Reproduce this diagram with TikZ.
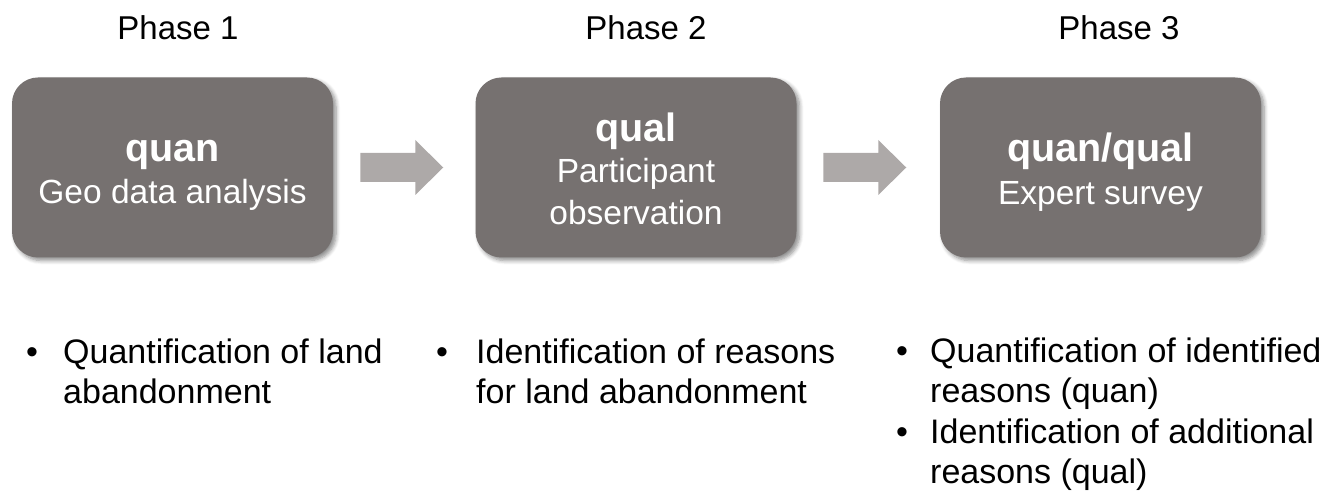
\documentclass[tikz,border=0pt]{standalone}
\usepackage{fontspec}
\setmainfont{Liberation Sans}
\usetikzlibrary{calc,shadows.blur}
\definecolor{boxgray}{HTML}{767170}
\definecolor{arrowgray}{HTML}{ADA9A8}
\tikzset{
  phasebox/.style={fill=boxgray, draw=none, rounded corners=26pt, minimum width=321pt, minimum height=180pt, inner sep=0pt,
    blur shadow={shadow xshift=3pt, shadow yshift=-3pt, shadow blur steps=6, shadow opacity=45, shadow blur radius=4pt}},
  boxtitle/.style={anchor=base, inner sep=0pt, text=white, font=\fontsize{39.5}{46}\selectfont\bfseries},
  boxtext/.style={anchor=base, inner sep=0pt, text=white, font=\fontsize{33.5}{40}\selectfont},
  phaselabel/.style={anchor=base, inner sep=0pt, font=\fontsize{33}{40}\selectfont},
  bulletdot/.style={anchor=base, inner sep=0pt, font=\fontsize{34}{40}\selectfont},
  bullettext/.style={anchor=base west, inner sep=0pt, font=\fontsize{34}{40}\selectfont},
  blockarrow/.style={fill=arrowgray, draw=none}
}
\begin{document}
\begin{tikzpicture}[x=1pt,y=-1pt]
\useasboundingbox (0,0) rectangle (1338,494);
% phase labels
\node[phaselabel] (p1) at (178,40) {Phase 1};
\node[phaselabel] (p2) at (646,40) {Phase 2};
\node[phaselabel] (p3) at (1119,40) {Phase 3};
% boxes
\node[phasebox] (b1) at (172.5,167.5) {};
\node[phasebox] (b2) at (636,167.5) {};
\node[phasebox] (b3) at (1100.5,167.5) {};
% box texts
\node[boxtitle] (t1a) at (172.5,162) {quan};
\node[boxtext] (t1b) at (172.5,204) {Geo data analysis};
\node[boxtitle] (t2a) at (636,142) {qual};
\node[boxtext] (t2b) at (636,183) {Participant};
\node[boxtext] (t2c) at (636,225) {observation};
\node[boxtitle] (t3a) at (1100.5,162) {quan/qual};
\node[boxtext] (t3b) at (1100.5,205) {Expert survey};
% block arrows
\coordinate (m1) at ($(b1.east)!0.5!(b2.west)+(-2.5,0)$);
\coordinate (m2) at ($(b2.east)!0.5!(b3.west)+(-3.5,0)$);
\foreach \m in {m1,m2}{
  \fill[blockarrow] ([shift={(-41.5,-14.5)}]\m) -- ([shift={(13.5,-14.5)}]\m) -- ([shift={(13.5,-27.5)}]\m)
    -- ([shift={(41.5,0)}]\m) -- ([shift={(13.5,27.5)}]\m) -- ([shift={(13.5,14.5)}]\m)
    -- ([shift={(-41.5,14.5)}]\m) -- cycle;
}
% bullets
\node[bulletdot] (d1) at (32,363) {•};
\node[bullettext] (l1a) at (63,363) {Quantification of land};
\node[bullettext] (l1b) at (63,403) {abandonment};
\node[bulletdot] (d2) at (442,363) {•};
\node[bullettext] (l2a) at (476,363) {Identification of reasons};
\node[bullettext] (l2b) at (476,403) {for land abandonment};
\node[bulletdot] (d3) at (902,362) {•};
\node[bullettext] (l3a) at (930,362) {Quantification of identified};
\node[bullettext] (l3b) at (930,402) {reasons (quan)};
\node[bulletdot] (d4) at (902,443) {•};
\node[bullettext] (l3c) at (930,443) {Identification of additional};
\node[bullettext] (l3d) at (930,483) {reasons (qual)};
\end{tikzpicture}
\end{document}
